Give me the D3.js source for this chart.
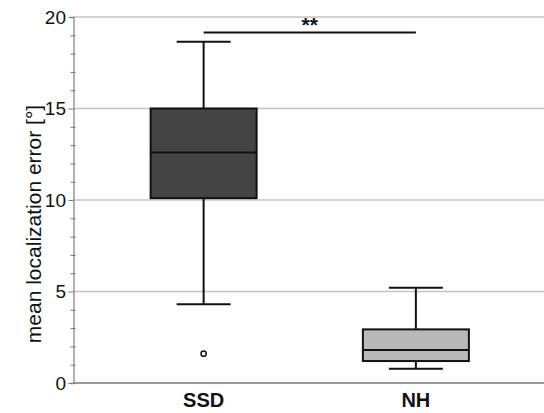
<!DOCTYPE html>
<html>
<head>
<meta charset="utf-8">
<script src="https://cdn.jsdelivr.net/npm/d3@7"></script>
<style>
  body { margin: 0; background: #fff; }
  svg { display: block; font-family: "Liberation Sans", Arial, sans-serif; }
</style>
</head>
<body>
<script>
// box plot values
const groups = ["SSD", "NH"];
const whiskerLow = [4.3, 0.78];
const q1 = [10.1, 1.2];
const median = [12.6, 1.8];
const q3 = [15.0, 2.93];
const whiskerHigh = [18.65, 5.2];
const boxFill = ["#444444", "#b9b9b9"];
const outliers = [{group: "SSD", value: 1.6}];
const yTicks = [0, 5, 10, 15, 20];
const sigLevel = 19.15;
const sigLabel = "**";

function main(){
    const canvasWidth = 544;
    const canvasHeight = 413;
    const left = 73.5, right = 544, top = 17, bottom = 383;

    const svg = d3.select("body").append("svg")
        .attr("width", canvasWidth)
        .attr("height", canvasHeight);

    const xScale = d3.scaleBand().domain(groups).range([left + 24, right - 22]).paddingInner(1.0).paddingOuter(0.5);
    const yScale = d3.scaleLinear().domain([0, 20]).range([bottom, top]);

    const boxW = 106, capW = 54;

    // grid lines
    svg.append("g").selectAll("line")
        .data(yTicks.filter(d => d > 0))
        .join("line")
        .attr("x1", left).attr("x2", right)
        .attr("y1", d => yScale(d)).attr("y2", d => yScale(d))
        .attr("stroke", "#c4c4c4").attr("stroke-width", 1.3);

    // y axis with minor ticks
    const yAxis = svg.append("g").attr("transform", `translate(${left},0)`)
        .call(d3.axisLeft(yScale).tickValues(d3.range(0, 21, 1)).tickSize(3).tickFormat(""));
    yAxis.select(".domain").attr("stroke", "#888").attr("stroke-width", 1.3);
    yAxis.selectAll(".tick line").attr("stroke", "#777").attr("x2", 2).attr("x1", -3);
    yAxis.selectAll(".tick").filter(d => d % 5 === 0).select("line").attr("x1", -5).attr("x2", 0);

    svg.append("g").selectAll("text")
        .data(yTicks)
        .join("text")
        .attr("x", 66).attr("y", d => yScale(d))
        .attr("dy", "0.36em")
        .attr("text-anchor", "end")
        .attr("font-size", "19px")
        .attr("fill", "#111")
        .text(d => d);

    // x baseline
    svg.append("line")
        .attr("x1", left).attr("x2", right)
        .attr("y1", bottom).attr("y2", bottom)
        .attr("stroke", "#777").attr("stroke-width", 1.3);

    // y label
    svg.append("text")
        .attr("transform", `translate(41,${(top + bottom) / 2 + 24}) rotate(-90)`)
        .attr("text-anchor", "middle")
        .attr("font-size", "21px")
        .attr("fill", "#111")
        .text("mean localization error [°]");

    const cx = d => xScale(d) + xScale.bandwidth() / 2;
    const box = svg.append("g").selectAll("g")
        .data(groups.map((g, i) => ({g, i})))
        .join("g");

    // whiskers
    box.append("line")
        .attr("x1", d => cx(d.g)).attr("x2", d => cx(d.g))
        .attr("y1", d => yScale(whiskerHigh[d.i])).attr("y2", d => yScale(whiskerLow[d.i]))
        .attr("stroke", "#111").attr("stroke-width", 2);
    box.selectAll(".cap")
        .data(d => [{g: d.g, v: whiskerHigh[d.i]}, {g: d.g, v: whiskerLow[d.i]}])
        .join("line")
        .attr("x1", d => cx(d.g) - capW / 2).attr("x2", d => cx(d.g) + capW / 2)
        .attr("y1", d => yScale(d.v)).attr("y2", d => yScale(d.v))
        .attr("stroke", "#111").attr("stroke-width", 2);

    // boxes
    box.append("rect")
        .attr("x", d => cx(d.g) - boxW / 2).attr("width", boxW)
        .attr("y", d => yScale(q3[d.i]))
        .attr("height", d => yScale(q1[d.i]) - yScale(q3[d.i]))
        .attr("fill", d => boxFill[d.i])
        .attr("stroke", "#111").attr("stroke-width", 2);
    box.append("line")
        .attr("x1", d => cx(d.g) - boxW / 2).attr("x2", d => cx(d.g) + boxW / 2)
        .attr("y1", d => yScale(median[d.i])).attr("y2", d => yScale(median[d.i]))
        .attr("stroke", "#111").attr("stroke-width", 2);

    // outliers
    svg.selectAll(".outlier")
        .data(outliers)
        .join("circle")
        .attr("cx", d => cx(d.group)).attr("cy", d => yScale(d.value))
        .attr("r", 2.6)
        .attr("fill", "#fff").attr("stroke", "#111").attr("stroke-width", 1.5);

    // x labels
    svg.append("g").selectAll("text")
        .data(groups)
        .join("text")
        .attr("x", d => cx(d)).attr("y", 407)
        .attr("text-anchor", "middle")
        .attr("font-size", "20px").attr("font-weight", "bold")
        .attr("fill", "#111")
        .text(d => d);

    // significance bar
    svg.append("line")
        .attr("x1", cx(groups[0])).attr("x2", cx(groups[1]))
        .attr("y1", yScale(sigLevel)).attr("y2", yScale(sigLevel))
        .attr("stroke", "#111").attr("stroke-width", 2);
    svg.append("text")
        .attr("x", (cx(groups[0]) + cx(groups[1])) / 2).attr("y", yScale(sigLevel) - 1)
        .attr("text-anchor", "middle")
        .attr("font-size", "21px")
        .attr("font-weight", "bold")
        .attr("fill", "#111")
        .text(sigLabel);
}
main();
</script>
</body>
</html>
